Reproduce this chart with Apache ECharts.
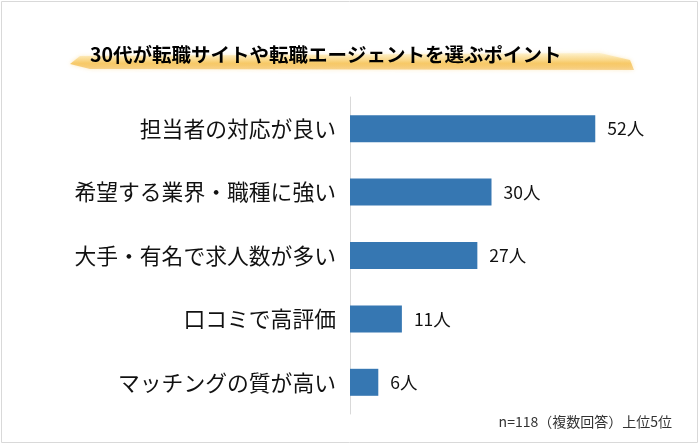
<!DOCTYPE html>
<html><head><meta charset="utf-8">
<script src="https://cdn.jsdelivr.net/npm/echarts@6/dist/echarts.min.js"></script>
<style>html,body{margin:0;padding:0;background:#fff}#c{width:700px;height:445px}</style>
</head><body><div id="c"></div>
<script>
const titleText = '30代が転職サイトや転職エージェントを選ぶポイント';
const categories = ['担当者の対応が良い','希望する業界・職種に強い','大手・有名で求人数が多い','口コミで高評価','マッチングの質が高い'];
const values = [52, 30, 27, 11, 6];
const unit = '人';
const note = 'n=118（複数回答）上位5位';
const font = '"Noto Sans CJK JP", "Noto Sans", sans-serif';

const chart = echarts.init(document.getElementById('c'), null, {renderer:'canvas'});
chart.setOption({
  animation: false,
  textStyle: {fontFamily: font},
  title: {
    text: titleText, left: 85, top: 39,
    textStyle: {fontFamily: font, fontSize: 19.5, fontWeight: 'bold', color: '#000', lineHeight: 22}
  },
  grid: {left: 350, right: 67, top: 97, height: 317, containLabel: false},
  xAxis: {type: 'value', min: 0, max: 60, show: false},
  yAxis: {
    type: 'category', data: categories, inverse: true,
    axisLine: {show: true, lineStyle: {color: '#d9d9d9', width: 1}},
    axisTick: {show: false},
    axisLabel: {fontFamily: font, fontSize: 21.8, color: '#111', margin: 14}
  },
  series: [{
    type: 'bar', data: values, barWidth: 27,
    itemStyle: {color: '#3677b2'},
    label: {show: true, position: 'right', distance: 12, fontFamily: font, fontSize: 17.5, color: '#111',
      formatter: p => p.value + unit}
  }],
  graphic: [
    {type: 'rect', z: -10, shape: {x: 1.5, y: 1.5, width: 696, height: 441}, style: {fill: 'none', stroke: '#d9d9d9', lineWidth: 1}},
    {type: 'polygon', z: -5, shape: {points: [[80,56],[600,53],[630,60],[634,70],[90,69],[70,64]]},
      style: {fill: new echarts.graphic.LinearGradient(0,0,0,1,[{offset:0,color:'rgba(253,236,180,0.5)'},{offset:0.6,color:'rgba(247,200,100,0.95)'},{offset:1,color:'rgba(244,190,90,0.6)'}]),
      shadowBlur: 4, shadowColor: 'rgba(248,205,110,0.6)'}},
    {type: 'text', z: 10, style: {text: note, x: 672, y: 422, align: 'right', verticalAlign: 'middle', fontFamily: font, fontSize: 14, fill: '#333'}}
  ]
});
</script></body></html>
